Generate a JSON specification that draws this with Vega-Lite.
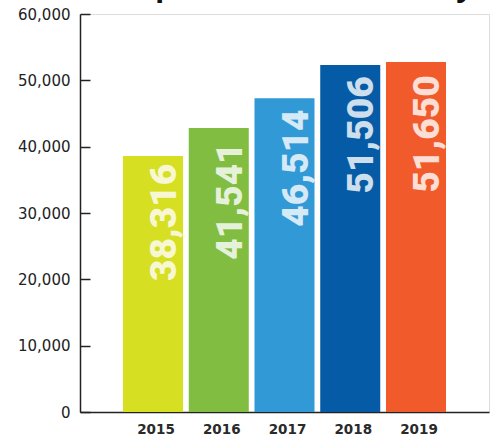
{
  "$schema": "https://vega.github.io/schema/vega-lite/v6.json",
  "autosize": {"type": "none"},
  "width": 409,
  "height": 398,
  "padding": {"left": 80, "top": 14, "right": 9, "bottom": 29},
  "background": "white",
  "title": {
    "text": "Requests in York County",
    "fontSize": 30,
    "fontWeight": "bold",
    "font": "Open Sans",
    "color": "#111111",
    "anchor": "middle",
    "baseline": "alphabetic",
    "offset": 0,
    "dy": 19,
    "dx": 6
  },
  "data": {
    "values": [
      {"year": "2015", "requests": 38316, "bar_height": 38600},
      {"year": "2016", "requests": 41541, "bar_height": 42800},
      {"year": "2017", "requests": 46514, "bar_height": 47300},
      {"year": "2018", "requests": 51506, "bar_height": 52300},
      {"year": "2019", "requests": 51650, "bar_height": 52750}
    ]
  },
  "encoding": {
    "x": {
      "field": "year",
      "type": "nominal",
      "scale": {"paddingInner": 0.087, "paddingOuter": 0.654},
      "axis": {
        "title": null,
        "labelAngle": 0,
        "labelFont": "DejaVu Sans",
        "labelFontSize": 13.5,
        "labelFontWeight": "bold",
        "labelColor": "#2a2a2a",
        "labelPadding": 10,
        "labelOffset": 3,
        "ticks": false,
        "domainColor": "#222222",
        "domainWidth": 1.5
      }
    }
  },
  "layer": [
    {
      "mark": {"type": "bar"},
      "encoding": {
        "y": {
          "field": "bar_height",
          "type": "quantitative",
          "scale": {"domain": [0, 60000], "nice": false},
          "axis": {
            "title": null,
            "values": [0, 10000, 20000, 30000, 40000, 50000, 60000],
            "format": ",d",
            "grid": false,
            "labelFont": "DejaVu Sans",
            "labelFontSize": 15,
            "labelColor": "#222222",
            "labelPadding": 20,
            "tickSize": -10,
            "tickColor": "#222222",
            "tickWidth": 1.5,
            "domainColor": "#222222",
            "domainWidth": 1.5
          }
        },
        "color": {
          "field": "year",
          "type": "nominal",
          "scale": {
            "domain": ["2015", "2016", "2017", "2018", "2019"],
            "range": ["#d7df23", "#80bd41", "#319ad6", "#065ba6", "#f15b2b"]
          },
          "legend": null
        }
      }
    },
    {
      "mark": {
        "type": "text",
        "angle": 270,
        "align": "right",
        "baseline": "middle",
        "dx": -6,
        "dy": 12,
        "font": "Roboto",
        "fontSize": 37,
        "fontWeight": 900,
        "color": "white",
        "opacity": 0.8
      },
      "encoding": {
        "y": {
          "field": "requests",
          "type": "quantitative",
          "axis": {
            "title": null,
            "values": [0, 10000, 20000, 30000, 40000, 50000, 60000],
            "format": ",d",
            "grid": false,
            "labelFont": "DejaVu Sans",
            "labelFontSize": 15,
            "labelColor": "#222222",
            "labelPadding": 20,
            "tickSize": -10,
            "tickColor": "#222222",
            "tickWidth": 1.5,
            "domainColor": "#222222",
            "domainWidth": 1.5
          }
        },
        "text": {"field": "requests", "type": "quantitative", "format": ",d"}
      }
    }
  ]
}
